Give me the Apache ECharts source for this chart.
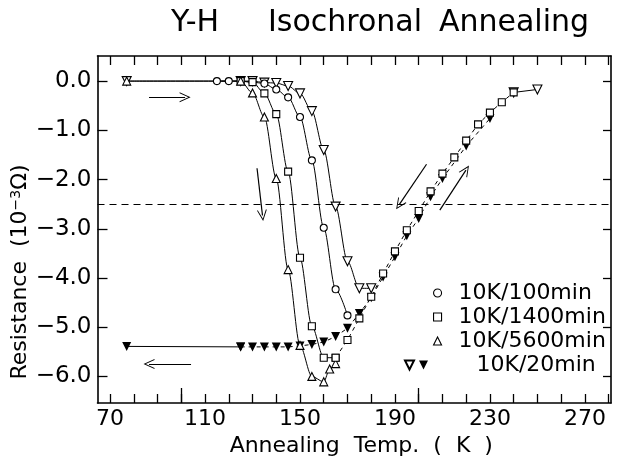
<!DOCTYPE html>
<html>
<head>
<meta charset="utf-8">
<script src="https://cdn.jsdelivr.net/npm/echarts@6/dist/echarts.min.js"></script>
<style>
  html, body { margin: 0; padding: 0; background: #fff; }
  #chart { width: 620px; height: 468px; }
</style>
</head>
<body>
<div id="chart"></div>
<script>
// temperatures (K) and resistance change (10^-3 ohm)
const tempCircle = [115, 120, 125, 130, 135, 140, 145, 150, 155, 160, 165, 170]
const resCircle = [0, 0, 0, -0.02, -0.05, -0.17, -0.33, -0.73, -1.61, -2.98, -4.23, -4.76]

const tempSquare = [125, 130, 135, 140, 145, 150, 155, 160, 165, 170, 175, 180, 185, 190, 195, 200, 205, 210, 215, 220, 225, 230, 235, 240]
const resSquare = [0, -0.02, -0.25, -0.67, -1.84, -3.59, -4.98, -5.62, -5.62, -5.26, -4.82, -4.38, -3.91, -3.46, -3.03, -2.64, -2.24, -1.88, -1.55, -1.21, -0.88, -0.64, -0.43, -0.23]

const tempTri = [77, 125, 130, 135, 140, 145, 150, 155, 160, 162.5, 165]
const resTri = [0, 0, -0.24, -0.73, -1.98, -3.83, -5.37, -6.0, -6.11, -5.85, -5.74]

const tempDown = [77, 125, 130, 135, 140, 145, 150, 155, 160, 165, 170, 175, 180]
const resDown = [0, 0, 0, -0.03, -0.04, -0.10, -0.25, -0.61, -1.40, -2.55, -3.66, -4.21, -4.21]
const tempDownEnd = [250]
const resDownEnd = [-0.17]

const tempFilled = [77, 125, 130, 135, 140, 145, 150, 155, 160, 165, 170, 175, 180, 185, 190, 195, 200, 205, 210, 220, 230]
const resFilled = [-5.39, -5.40, -5.40, -5.40, -5.40, -5.40, -5.38, -5.35, -5.30, -5.19, -5.02, -4.72, -4.40, -3.98, -3.57, -3.14, -2.79, -2.35, -1.98, -1.32, -0.76]

const xTicks = [70, 80, 90, 100, 110, 120, 130, 140, 150, 160, 170, 180, 190, 200, 210, 220, 230, 240, 250, 260, 270, 280]
const xLabels = [70, 110, 150, 190, 230, 270]
const xLongTicks = [100, 200]
const yTicks = [0, -1, -2, -3, -4, -5, -6]

const legendNames = ['10K/100min', '10K/1400min', '10K/5600min', '10K/20min']

const FONT = 'DejaVu Sans'
const X_MIN = 64.7
const X_MAX = 281
const Y_MIN = -6.54
const Y_MAX = 0.51

function pairs (xs, ys) {
  return xs.map((x, i) => [x, ys[i]])
}

// open arrow head, tip on top
const openArrow = 'path://M0,10L5,0L10,10L9,10L5,2L1,10Z'

function arrow (x1, y1, x2, y2) {
  return [
    { coord: [x1, y1], symbol: 'none' },
    { coord: [x2, y2], symbol: openArrow, symbolSize: [10, 11] }
  ]
}

const openItem = { color: '#fff', borderColor: '#000', borderWidth: 1.1 }
const lineSolid = { color: '#000', width: 1 }
const sqSplit = tempSquare.indexOf(165)
const titleStyle = { fontFamily: FONT, fontSize: 30, fontWeight: 'normal', color: '#000' }

let myChart = echarts.init(document.getElementById('chart'))
myChart.setOption({
  animation: false,
  backgroundColor: '#fff',
  textStyle: { fontFamily: FONT },
  title: [
    { text: 'Y-H', left: 190, top: 3, textAlign: 'center', textStyle: titleStyle },
    { text: 'Isochronal', left: 340, top: 3, textAlign: 'center', textStyle: titleStyle },
    { text: 'Annealing', left: 509, top: 3, textAlign: 'center', textStyle: titleStyle }
  ],
  graphic: [
    {
      type: 'text',
      x: 20,
      y: 272,
      rotation: Math.PI / 2,
      style: {
        text: '{a|Resistance  (10}{s|−3}{a|Ω)}',
        align: 'center',
        verticalAlign: 'middle',
        rich: {
          a: { fontFamily: FONT, fontSize: 22, fill: '#000' },
          s: { fontFamily: FONT, fontSize: 14, fill: '#000', verticalAlign: 'top', lineHeight: 14 }
        }
      }
    }
  ],
  legend: [
    {
      orient: 'vertical',
      left: 428,
      top: 277,
      itemGap: 2,
      itemWidth: 8,
      itemHeight: 8,
      data: [
        { name: legendNames[0], icon: 'circle' },
        { name: legendNames[1], icon: 'rect' },
        { name: legendNames[2], icon: 'triangle' }
      ],
      itemStyle: openItem,
      textStyle: { fontFamily: FONT, fontSize: 22, color: '#000', padding: [0, 0, 0, 12] }
    },
    {
      orient: 'horizontal',
      left: 399,
      top: 349,
      itemGap: 4,
      itemWidth: 10,
      itemHeight: 9,
      data: [
        { name: legendNames[3], icon: 'path://M0,0L10,0L5,10Z' },
        { name: 'filled', icon: 'path://M0,0L10,0L5,10Z' }
      ],
      formatter: function (name) {
        return name === 'filled' ? '10K/20min' : ''
      },
      textStyle: { fontFamily: FONT, fontSize: 22, color: '#000', padding: [0, 0, 0, 43] }
    }
  ],
  grid: { left: 97.5, right: 9, top: 56, bottom: 65, outerBoundsMode: 'none', containLabel: false },
  xAxis: [
    {
      type: 'value',
      min: X_MIN,
      max: X_MAX,
      name: 'Annealing  Temp.  (  K  )',
      nameLocation: 'middle',
      nameGap: 31,
      nameTextStyle: { fontFamily: FONT, fontSize: 22, color: '#000', padding: [0, 0, 0, 14] },
      axisLine: { onZero: false, lineStyle: { color: '#000', width: 1.6 } },
      axisTick: { inside: true, length: 9, customValues: xTicks, lineStyle: { color: '#000', width: 1.3 } },
      axisLabel: { customValues: xLabels, color: '#000', fontSize: 22, fontFamily: FONT, margin: 5 },
      splitLine: { show: false }
    },
    {
      type: 'value',
      min: X_MIN,
      max: X_MAX,
      position: 'bottom',
      axisLine: { show: false, onZero: false },
      axisTick: { inside: true, length: 15, customValues: xLongTicks, lineStyle: { color: '#000', width: 1.3 } },
      axisLabel: { show: false },
      splitLine: { show: false }
    },
    {
      type: 'value',
      min: X_MIN,
      max: X_MAX,
      position: 'top',
      axisLine: { onZero: false, lineStyle: { color: '#000', width: 1.6 } },
      axisTick: { inside: true, length: 9, customValues: xTicks, lineStyle: { color: '#000', width: 1.3 } },
      axisLabel: { show: false },
      splitLine: { show: false }
    }
  ],
  yAxis: [
    {
      type: 'value',
      min: Y_MIN,
      max: Y_MAX,
      axisLine: { onZero: false, lineStyle: { color: '#000', width: 1.6 } },
      axisTick: { inside: true, length: 10, customValues: yTicks, lineStyle: { color: '#000', width: 1.3 } },
      axisLabel: {
        customValues: yTicks,
        color: '#000',
        fontSize: 23,
        fontFamily: FONT,
        margin: 6,
        formatter: v => v.toFixed(1).replace('-', '−')
      },
      splitLine: { show: false }
    },
    {
      type: 'value',
      min: Y_MIN,
      max: Y_MAX,
      position: 'right',
      axisLine: { onZero: false, lineStyle: { color: '#000', width: 1.6 } },
      axisTick: { inside: true, length: 8, customValues: yTicks, lineStyle: { color: '#000', width: 1.3 } },
      axisLabel: { show: false },
      splitLine: { show: false }
    }
  ],
  series: [
    {
      name: legendNames[3],
      type: 'line',
      data: pairs(tempDown, resDown),
      symbol: 'triangle',
      symbolRotate: 180,
      symbolSize: 9,
      smooth: 0.3,
      smoothMonotone: 'x',
      itemStyle: openItem,
      lineStyle: lineSolid,
      z: 3,
      markLine: {
        silent: true,
        label: { show: false },
        symbol: 'none',
        lineStyle: { color: '#000', width: 1.2, type: 'solid' },
        data: [
          [{ yAxis: -2.5, x: 97.5, lineStyle: { type: [7, 5], width: 1.1 } }, { yAxis: -2.5, x: 611 }],
          arrow(86.4, -0.33, 101.6, -0.33),
          arrow(131.9, -1.77, 134.2, -2.73),
          arrow(104.1, -5.75, 86.4, -5.75),
          arrow(203.3, -1.69, 191.8, -2.51),
          arrow(208.9, -2.62, 219.9, -1.81)
        ]
      }
    },
    {
      name: legendNames[3],
      type: 'line',
      data: [[tempSquare[tempSquare.length - 1], resSquare[resSquare.length - 1]]].concat(pairs(tempDownEnd, resDownEnd)),
      symbol: 'triangle',
      symbolRotate: 180,
      symbolSize: 9,
      itemStyle: openItem,
      lineStyle: lineSolid,
      z: 2
    },
    {
      name: legendNames[0],
      type: 'line',
      data: pairs(tempCircle, resCircle),
      symbol: 'circle',
      symbolSize: 7,
      smooth: 0.3,
      smoothMonotone: 'x',
      itemStyle: openItem,
      lineStyle: lineSolid,
      z: 4
    },
    {
      name: legendNames[1],
      type: 'line',
      data: pairs(tempSquare.slice(0, sqSplit + 1), resSquare.slice(0, sqSplit + 1)),
      symbol: 'rect',
      symbolSize: 7,
      smooth: 0.3,
      smoothMonotone: 'x',
      itemStyle: openItem,
      lineStyle: lineSolid,
      z: 4
    },
    {
      name: legendNames[1],
      type: 'line',
      data: pairs(tempSquare.slice(sqSplit), resSquare.slice(sqSplit)),
      symbol: 'rect',
      symbolSize: 7,
      itemStyle: openItem,
      lineStyle: { color: '#000', width: 1, type: [4, 4] },
      z: 5
    },
    {
      name: legendNames[2],
      type: 'line',
      data: pairs(tempTri, resTri),
      symbol: 'triangle',
      symbolSize: 8,
      smooth: 0.3,
      smoothMonotone: 'x',
      itemStyle: openItem,
      lineStyle: lineSolid,
      z: 4
    },
    {
      name: 'filled',
      type: 'line',
      data: pairs(tempFilled.slice(0, 2), resFilled.slice(0, 2)),
      symbol: 'triangle',
      symbolRotate: 180,
      symbolSize: 9,
      itemStyle: { color: '#000' },
      lineStyle: lineSolid,
      z: 3
    },
    {
      name: 'filled',
      type: 'line',
      data: pairs(tempFilled.slice(1), resFilled.slice(1)),
      symbol: 'triangle',
      symbolRotate: 180,
      symbolSize: 9,
      itemStyle: { color: '#000' },
      lineStyle: { color: '#000', width: 1, type: [4, 4] },
      z: 3
    }
  ]
})
</script>
</body>
</html>
